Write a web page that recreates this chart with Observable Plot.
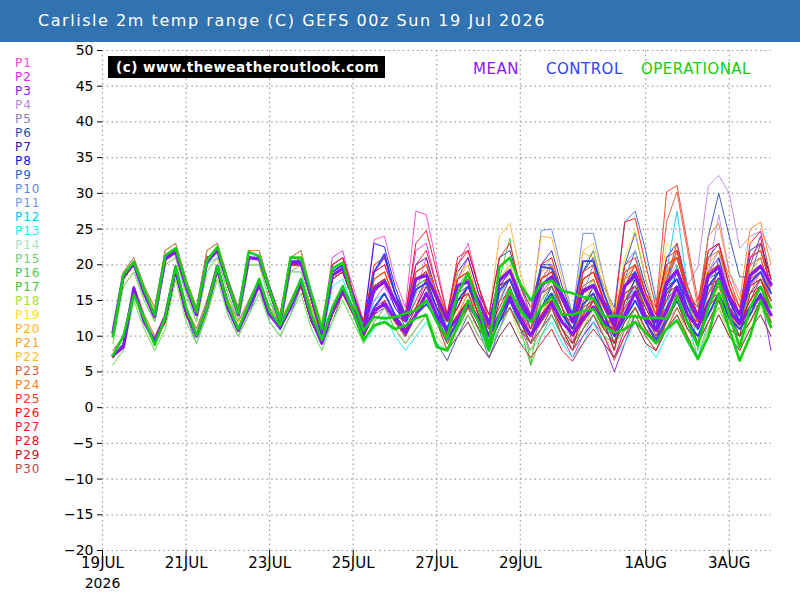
<!DOCTYPE html>
<html><head><meta charset="utf-8">
<script src="https://cdn.jsdelivr.net/npm/d3@7"></script>
<script src="https://cdn.jsdelivr.net/npm/@observablehq/plot@0.6"></script>
<style>
body{margin:0;background:#fff;}
#wrap{position:relative;width:800px;height:600px;overflow:hidden;font-family:"DejaVu Sans",sans-serif;}
#title{position:absolute;left:0;top:0;width:800px;height:42px;background:#3172b0;color:#fff;font-size:16px;letter-spacing:1.55px;line-height:42px;padding-left:38px;box-sizing:border-box;white-space:nowrap;}
#chart{position:absolute;left:0;top:42px;}
.leg{position:absolute;left:15px;font-size:12px;line-height:12px;letter-spacing:1px;}
#copy{position:absolute;left:108px;top:56px;width:277px;height:22px;background:#000;color:#fff;font-weight:bold;font-size:13.5px;line-height:22px;padding-left:8px;box-sizing:border-box;letter-spacing:0.5px;white-space:nowrap;}
.key{position:absolute;top:61px;font-size:15px;line-height:16px;letter-spacing:0.5px;white-space:nowrap;}
</style></head>
<body><div id="wrap">
<div id="title"></div>
<div id="chart"></div>
<div id="copy">(c) www.theweatheroutlook.com</div>
</div>
<script>
const titleText = "Carlisle 2m temp range (C) GEFS 00z Sun 19 Jul 2026";
const yTicks = [-20,-15,-10,-5,0,5,10,15,20,25,30,35,40,45,50];
const xTickDates = ["2026-07-19","2026-07-21","2026-07-23","2026-07-25","2026-07-27","2026-07-29","2026-08-01","2026-08-03"];
const xTickLabels = ["19JUL","21JUL","23JUL","25JUL","27JUL","29JUL","1AUG","3AUG"];
const yearLabel = "2026";
const startTime = "2026-07-19T06:00:00Z"; // first 6-hourly value
const stepHours = 6;

const memberNames = ["P1","P2","P3","P4","P5","P6","P7","P8","P9","P10","P11","P12","P13","P14","P15","P16","P17","P18","P19","P20","P21","P22","P23","P24","P25","P26","P27","P28","P29","P30"];
const memberColors = ["#ff40d0","#e020f0","#8a10f0","#b888e8","#9080b8","#2850a8","#3010b0","#1010f0","#3060d8","#6088e0","#7098e8","#10c8f8","#10f0f0","#a8e0c0","#70d070","#50c850","#40c030","#a8e030","#ffe020","#ffb030","#ffa020","#ffc030","#e05838","#ff8020","#ff3820","#ff1010","#f01030","#e81020","#c81020","#b84848"];
const keyNames = ["MEAN","CONTROL","OPERATIONAL"];
const keyColors = ["#8c14fa","#3040ff","#10d010"];

// ensemble mean, control, operational (6-hourly max / min)
const meanMax = [10.5,18.5,20.2,16, 12.8,20.8,21.8,17, 13,20.5,22,17.5, 13,21,20.8,16.5, 12,20.3,20.2,15.5, 10.5,18.5,19.5,15.5, 11,16.6,17.6,15, 12.2,18,18.5,15.5, 12.4,17.1,17.6,15, 11.7,17.8,19.2,15.5, 12.5,17.1,18.3,15.5, 12,16.4,17.1,14.5, 11.5,17,18.5,15, 12,17.5,19.2,15.5, 12.5,18.5,19.7,15.5, 13,18.5,19.8,17.3];
const meanMin = [7.3,8.5,16.7,12, 9.3,12.7,19.5,13.5, 10,14,19.8,14, 10.8,14,17.2,13, 11.3,14,17.8,12.5, 9,13.6,16.4,13.5, 10.4,13.6,14.5,12.5, 10.5,13,16,13, 10.8,12.5,14.6,12.5, 10.1,13,15.5,12.5, 10.1,12.5,14.6,12, 10.3,12.5,14.1,12, 10.4,13,16.2,12.5, 10.8,13.5,16.9,13, 11.3,14.5,18,13.5, 11.7,14,15.6,13];
const ctrlMax = [10.3,18.3,20,16, 12.7,21,21.7,17, 13,20.4,22,17.5, 13,21,21,16.5, 12,20.5,20.5,15.5, 10.5,19,20,15.5, 11,19,21.5,16, 12.5,16.5,17.5,14, 11,15,17,14, 10,16.5,18,14.5, 12,19.7,19.5,16, 13,20.5,20.5,16, 12,17,19,15, 11,16.5,18,14, 11,17,19,15, 12,17.5,19,16];
const ctrlMin = [7.2,8.8,16.5,12, 9.3,12.5,19,13.5, 10,14,19.2,14, 10.8,14,17.5,13, 11,14,17.5,12.5, 9,13.5,17,13.5, 10.5,14,16,13, 10.5,13,14.5,12.5, 9.5,12,14.5,12, 9,12,15,12, 10,14,16,13, 11,14.5,16,13, 10,12.5,15,12, 9.5,12.5,15,12, 10,13,16,12.5, 11,13,16,13];
const operMax = [10,18.6,20.4,16.5, 13,21.3,22.3,17.5, 13.4,20.6,22.5,17.5, 13.2,21.8,21.2,16.5, 12.2,21,21,16, 11,19.5,20.3,15, 10.8,12.7,12.5,12.7, 13.2,13.6,15,12, 9.7,16,18.8,14, 8.7,19.7,21,17.3, 15,17.3,17.8,16.4, 16,15.5,15.3,12.7, 12.9,12.7,12.8,12.5, 12.6,12.4,15.5,12, 8.7,14,17.8,13, 8.5,14,16.9,14];
const operMin = [7.3,10,15.8,12.5, 8.8,12.7,19.8,14, 10.1,14,19.8,14.5, 11,14.5,18,13.5, 11.5,14.5,18,13, 9.5,14,17,13.5, 9.5,11.5,12,11, 11.5,12.5,13,8.5, 8,11.5,15,12, 8,13,16.5,13.5, 12,14,15.5,13, 13,13.5,13.8,11.5, 10.5,11,12,10.5, 9,11,12.2,9.5, 6.8,10,16,11, 6.6,10,15,11.3];

// perturbation members
const P1_max = [10,18,20,16, 13,21,22,17, 13,21,22,17, 13,21,21,16, 12,20,21,16, 11,20,21,17, 12,23.5,24,18, 14,27.5,27,20, 13,20,23,17, 12,18,19,15, 11,16,17,14, 10,15,16,13, 9,15,17,14, 11,16,18,14, 12,17,19,15, 12,18,19,15];
const P1_min = [7,9,16,12, 9,12,19,13, 10,14,19,14, 11,14,17,13, 11,14,18,13, 10,14,17,14, 11,15,17,14, 12,16,21,15, 12,14,17,13, 10,13,15,12, 9,12,14,11, 8,11,13,10, 7,11,14,11, 9,12,15,12, 10,13,16,12, 11,13,15,12];
const P2_max = [10,18,20,16, 12,21,22,17, 13,20,22,17, 13,21,21,16, 12,21,21,16, 11,21,22,16, 12,19,20,16, 13,22,23,17, 12,18,21,16, 11,17,18,14, 10,16,18,14, 9,15,16,13, 10,16,17,14, 12,18,21,16, 13,19,22,16, 12,17,19,15];
const P2_min = [7,9,16,12, 9,12,19,13, 10,14,19,14, 11,14,17,13, 11,14,17,12, 9,14,17,13, 10,14,15,13, 11,14,18,13, 11,13,16,13, 10,12,14,11, 8,11,13,10, 7,10,12,10, 7,11,14,11, 10,13,17,13, 11,14,18,13, 11,13,16,12];
const P3_max = [10,18,20,16, 13,21,22,17, 13,21,22,17, 13,21,21,16, 12,20,20,15, 10,18,19,15, 11,17,18,15, 12,18,19,15, 12,16,17,14, 11,17,19,15, 11,16,17,14, 10,15,16,12, 8,15,17,13, 11,17,19,15, 12,19,21,16, 12,20,24,16];
const P3_min = [7,9,17,12, 9,12,19,13, 10,14,19,14, 11,14,17,13, 11,14,17,12, 9,13,16,13, 10,13,14,12, 10,13,15,12, 10,12,14,11, 9,12,14,11, 9,11,13,10, 8,10,12,9, 5,9,13,10, 8,12,16,12, 10,14,18,13, 11,13,16,8];
const P4_max = [10,18,20,16, 13,21,22,17, 13,21,22,17, 13,21,21,16, 12,20,20,15, 10,18,19,15, 11,17,18,15, 12,18,19,15, 12,17,18,15, 12,18,19,15, 12,17,18,15, 12,16,17,14, 11,17,18,15, 12,19,21,17, 19.7,31,32.5,30, 22.3,24,24.7,22];
const P4_min = [7,9,17,12, 9,12,19,13, 10,14,19,14, 11,14,17,13, 11,14,17,12, 9,13,16,13, 10,13,15,12, 10,13,16,13, 11,12,15,12, 10,13,15,12, 10,12,15,12, 10,12,14,12, 10,13,16,12, 11,14,17,14, 15,19,27,19, 16,17,20,15];
const P5_max = [10,17,19,15, 12,20,21,16, 12,20,21,16, 12,20,20,15, 12,19,20,15, 10,18,19,15, 11,17,18,15, 12,19,20,16, 13,18,19,15, 12,17,18,14, 12,16,17,14, 11,16,17,13, 11,16,17,14, 11,16,17,14, 12,17,18,14, 13,17,18,15];
const P5_min = [7,9,16,12, 9,12,18,13, 10,13,18,14, 11,14,17,13, 11,14,17,12, 9,13,16,13, 10,13,15,12, 11,13,16,13, 11,13,15,12, 10,12,14,11, 10,12,14,11, 9,11,13,11, 9,12,14,11, 9,12,14,11, 10,13,15,12, 11,13,15,12];
const P6_max = [10,18,20,16, 13,21,22,17, 13,20,22,17, 13,21,21,16, 12,20,20,15, 10,18,19,15, 11,17,18,15, 11,17,18,14, 10,15,16,13, 10,17,19,15, 12,18,20,16, 12,19,22,16, 12,20,24.5,18, 13,18,22,16, 14,24,30,24, 18.3,18.3,23,18];
const P6_min = [7,9,16,12, 9,12,18,13, 9,13,19,13, 10,13,17,12, 10,13,17,12, 9,12,16,13, 9,12,14,11, 9,11,13,9, 6.6,10,13,10, 8,11,14,11, 10,12,15,12, 10,13,16,13, 11,14,18,13, 10,12,16,12, 11,14,21,15, 13,14,16,13];
const P7_max = [11,19,21,17, 14,22,23,18, 14,22,23,18, 14,22,22,17, 13,21,22,16, 11,20,21,16, 12,19,21,16, 13,20,21,16, 12,19,21,16, 13,21,22,17, 14,20,22,17, 13,19,21,16, 12,20,22,17, 13,21,23,17, 13,21,23,17, 14,22,23,18];
const P7_min = [8,10,17,13, 10,13,20,14, 11,15,20,15, 12,15,18,14, 12,15,18,14, 10,14,17,14, 11,14,16,13, 12,14,17,13, 12,14,17,13, 12,15,18,14, 12,14,17,13, 12,14,17,13, 12,15,18,13, 12,15,19,14, 13,16,19,14, 13,16,18,14];
const P8_max = [10,18,20,16, 13,21,22,17, 13,21,22,17, 13,21,21,16, 12,20,21,16, 11,20,21,16, 12,23,22.5,17, 13,19,20,15, 11,17,18,15, 11,17,18,15, 12,20,20,16, 12,18,19,15, 11,16,17,14, 11,17,18,15, 11,18,19,15, 12,18,19,16];
const P8_min = [7,9,17,12, 9,12,19,13, 10,14,19,14, 11,14,17,13, 11,14,17,13, 10,14,17,14, 11,16,18,14, 12,14,15,12, 10,12,14,11, 9,12,14,11, 10,13,15,12, 10,12,14,11, 9,12,14,11, 9,12,15,12, 10,13,16,12, 11,13,16,12];
const P9_max = [10,18,20,16, 13,21,22,17, 13,21,22,17, 13,21,21,16, 12,20,20,15, 10,18,19,15, 11,18,19,15, 12,18,19,15, 11,17,18,14, 9,16,18,14, 12,18,19,15, 12,19,21,17, 14,26,27.5,22, 15,19,21,17, 13,18,19,15, 12,18,19,15];
const P9_min = [7,9,16,12, 9,12,19,13, 10,14,19,14, 11,14,17,13, 11,14,17,12, 9,13,16,13, 10,13,15,12, 10,13,15,12, 9,11,14,11, 7,11,15,11, 10,12,15,12, 11,14,17,13, 12,18,22,16, 12,14,17,13, 11,13,16,12, 10,13,16,12];
const P10_max = [10,18,20,16, 13,21,22,17, 13,21,22,17, 13,21,21,16, 12,20,20,15, 10,18,19,15, 11,17,18,15, 12,18,19,15, 12,17,19,15, 12,18,20,16, 13,24.8,25,19, 13,24.4,24.4,18, 12,19,20,16, 12,20,21,16, 12,19,20,15, 12,19,20,16];
const P10_min = [7,9,16,12, 9,12,19,13, 10,14,19,14, 11,14,17,13, 11,14,17,12, 9,13,16,13, 10,13,15,12, 11,13,15,12, 11,13,15,12, 10,13,16,12, 11,16,20,14, 11,16,20,14, 11,14,17,13, 11,14,17,13, 11,14,17,13, 12,14,17,13];
const P11_max = [10,18,20,16, 13,21,22,17, 13,20,21,17, 13,21,21,16, 12,21,21,16, 11,19,20,16, 12,18,19,15, 12,19,20,15, 12,16,18,14, 11,17,18,14, 11,16,17,13, 10,15,16,13, 10,17,18,14, 11,16,18,14, 12,18,20,15, 12,21,22,17];
const P11_min = [7,9,16,12, 9,12,19,13, 10,14,19,14, 11,14,17,13, 11,14,17,12, 9,13,16,13, 10,13,15,12, 11,13,15,12, 10,12,14,11, 9,11,14,11, 9,11,13,10, 8,10,13,10, 9,11,14,11, 9,12,15,11, 10,13,16,12, 11,14,17,13];
const P12_max = [10,18,20,16, 13,21,22,17, 13,20,22,17, 13,21,21,16, 12,20,20,15, 10,18,19,15, 11,17,18,15, 12,18,19,15, 12,18,19,15, 11,17,18,15, 12,17,18,15, 12,17,18,14, 11,17,19,15, 12,19,27.5,17, 8,17,19,15, 12,17,18,15];
const P12_min = [7,9,16,12, 9,12,19,13, 10,14,19,14, 11,14,17,13, 11,14,17,12, 9,13,16,13, 10,13,15,12, 10,13,15,12, 10,12,14,11, 9,12,14,11, 10,12,14,11, 10,12,14,11, 10,12,15,12, 11,14,20,12, 7,12,15,12, 10,13,15,12];
const P13_max = [9,17,19,15, 12,20,21,16, 12,19,21,16, 12,20,20,15, 11,19,19,14, 9,17,18,14, 10,15,16,13, 11,16,17,13, 10,15,16,13, 9,15,17,13, 10,15,16,13, 10,14,15,12, 9,14,16,12, 9,15,16,12, 10,15,16,13, 10,16,17,13];
const P13_min = [6,8,15,11, 8,11,18,12, 9,13,18,13, 10,13,16,12, 10,13,16,11, 8,12,15,12, 9,11,13,10, 8,10,12,9, 8,10,12,9, 7,10,12,9, 8,10,12,9, 7,9,12,9, 7,9,12,9, 7,10,13,9, 7,10,13,10, 8,11,13,10];
const P14_max = [10,18,20,16, 13,20,21,17, 13,20,21,17, 13,20,20,16, 12,20,20,15, 10,18,19,15, 11,17,18,15, 12,18,19,16, 13,18,19,15, 12,18,19,15, 12,18,19,15, 12,18,19,15, 12,20,22,16, 12,18,19,15, 13,19,22,16, 13,20,21,16];
const P14_min = [7,9,16,12, 9,12,18,13, 10,13,18,14, 11,14,17,13, 11,14,17,12, 9,13,16,13, 10,13,15,12, 11,13,16,13, 11,13,15,12, 10,13,15,12, 11,13,15,12, 11,13,15,12, 11,14,17,13, 11,13,15,12, 11,14,17,13, 12,14,16,13];
const P15_max = [10,18,20,16, 13,21,22,17, 13,21,22,17, 13,21,21,16, 12,20,20,15, 10,18,19,15, 11,17,18,15, 12,17,18,15, 11,17,18,14, 11,17,18,14, 12,17,18,15, 12,16,17,14, 11,16,17,14, 11,16,17,13, 9,16,18,14, 10,17,18,15];
const P15_min = [7,9,16,12, 9,12,19,13, 10,14,19,14, 11,14,17,13, 11,14,17,12, 9,13,16,13, 10,13,15,12, 10,13,15,12, 9,11,14,11, 9,12,14,11, 10,12,14,11, 10,12,14,11, 9,11,13,10, 8,11,13,10, 7,11,15,11, 8,12,15,12];
const P16_max = [10,18,20,16, 13,21,22,17, 13,21,22,17, 13,21,21,16, 12,20,21,16, 11,19,20,15, 11,18,19,15, 12,18,19,15, 12,17,18,15, 11,18,20,15, 12,17,18,14, 11,16,17,14, 11,17,18,14, 11,18,20,15, 11,18,19,15, 12,19,21,16];
const P16_min = [7,9,16,12, 9,12,19,13, 10,14,19,14, 11,14,17,13, 11,14,17,12, 9,13,16,13, 10,13,15,12, 10,13,15,12, 10,12,14,11, 9,12,15,11, 9,11,14,11, 9,11,13,10, 9,11,14,11, 9,12,15,12, 9,12,15,12, 10,13,16,12];
const P17_max = [10,18,20,16, 13,21,22,17, 13,21,22,17, 13,21,21,16, 12,20,20,15, 10,18,19,15, 11,17,18,15, 12,17,18,15, 11,16,17,14, 10,18,23.7,15, 6,15,17,13, 11,16,18,14, 11,17,18,14, 11,17,19,15, 11,17,18,14, 11,17,18,15];
const P17_min = [7,9,16,12, 9,12,19,13, 10,14,19,14, 11,14,17,13, 11,14,17,12, 9,13,16,13, 10,13,15,12, 10,13,15,12, 9,11,14,11, 9,12,17,11, 5.9,10,13,10, 9,11,14,11, 9,12,14,11, 9,12,15,11, 9,12,14,11, 10,12,15,12];
const P18_max = [9,17,19,15, 12,20,21,16, 12,19,21,16, 12,20,20,15, 11,19,19,14, 10,18,19,15, 11,17,18,15, 12,18,19,15, 12,19,20,15, 11,18,20,15, 12,19,21,16, 12,20,22,16, 12,18,20,15, 12,19,21,16, 12,19,20,16, 13,18,19,16];
const P18_min = [6,8,15,11, 8,11,18,12, 9,13,18,13, 10,13,16,12, 10,13,16,11, 8,12,15,12, 9,12,14,11, 9,11,13,10, 8,11,13,10, 8,11,14,10, 8,11,14,10, 8,11,14,10, 8,11,14,10, 8,11,14,10, 8,11,14,10, 9,12,14,11];
const P19_max = [10,18,20,16, 13,21,22,17, 13,21,22,17, 13,21,21,16, 12,20,20,15, 10,18,19,15, 11,18,19,15, 12,18,19,15, 12,18,19,15, 12,18,20,16, 12,18,19,15, 12,19,20,16, 13,21,24.8,18, 13,23,22,17, 13,19,20,16, 13,18,19,15];
const P19_min = [7,9,16,12, 9,12,19,13, 10,14,19,14, 11,14,17,13, 11,14,17,12, 9,13,16,13, 10,13,15,12, 11,13,15,12, 11,13,15,12, 11,13,16,12, 11,13,15,12, 11,14,16,13, 12,15,19,14, 12,16,18,14, 12,14,17,13, 11,13,15,12];
const P20_max = [10,18,20,16, 13,21,22,17, 13,21,22,17, 13,21,21,16, 12,20,20,15, 10,18,19,15, 11,18,19,15, 13,19,20,16, 13,18,19,15, 13,24,25.8,19, 14,24,23.8,18, 13,21.7,21,17, 13,19,20,16, 12,19,22,16, 12,18,20,16, 12,19,21,16];
const P20_min = [7,9,16,12, 9,12,19,13, 10,14,19,14, 11,14,17,13, 11,14,17,12, 9,13,16,13, 10,13,15,12, 11,14,16,13, 11,13,16,13, 12,15,19,14, 12,15,18,14, 12,15,17,13, 11,14,16,13, 11,14,17,13, 11,14,16,13, 11,14,17,13];
const P21_max = [11,19,21,17, 14,22,23,18, 14,22,23,18, 14,22,22,17, 13,21,22,16, 12,20,21,16, 12,18,19,15, 12,19,20,16, 13,18,20,15, 12,18,19,15, 12,19,20,16, 12,18,19,15, 12,18,20,16, 12,20,21,16, 13,20,22,17, 14,21,22,17];
const P21_min = [8,10,17,13, 10,13,20,14, 11,15,20,15, 12,15,18,14, 12,15,18,14, 10,14,17,13, 10,13,15,12, 11,14,16,13, 11,13,16,12, 10,13,15,12, 11,13,16,12, 11,13,15,12, 11,13,16,12, 11,14,17,13, 12,15,17,13, 12,15,17,13];
const P22_max = [10,18,20,16, 13,21,22,17, 13,21,22,17, 13,21,21,16, 12,20,20,15, 10,18,19,15, 11,17,18,15, 12,18,19,15, 12,17,18,15, 12,18,19,15, 12,18,19,15, 13,22,23,18, 13,18,19,15, 12,18,19,15, 13,19,20,16, 13,19,20,16];
const P22_min = [7,9,16,12, 9,12,19,13, 10,14,19,14, 11,14,17,13, 11,14,17,12, 9,13,16,13, 10,13,15,12, 11,13,15,12, 10,13,15,12, 10,13,15,12, 10,13,15,12, 11,14,18,13, 11,13,15,12, 10,13,15,12, 11,13,16,12, 11,13,16,12];
const P23_max = [10,18,20,16, 13,21,22,17, 13,21,22,17, 13,21,21,16, 12,20,20,15, 10,18,19,15, 11,17,18,15, 12,18,19,15, 12,17,18,14, 11,17,18,14, 12,17,18,15, 12,17,18,14, 12,18,19,15, 13,26,30.2,22, 14,21,22,17, 13,20,21,16];
const P23_min = [7,9,16,12, 9,12,19,13, 10,14,19,14, 11,14,17,13, 11,14,17,12, 9,13,16,13, 10,13,15,12, 10,13,15,12, 10,12,14,11, 10,12,14,11, 10,12,15,12, 10,12,14,11, 11,13,15,12, 12,17,22,15, 12,15,17,13, 11,14,16,13];
const P24_max = [10,18,20,16, 13,21,22,17, 13,21,22,17, 13,21,21,16, 12,20,20,15, 10,18,19,15, 11,18,19,15, 12,18,19,15, 12,18,19,15, 11,18,19,15, 12,18,20,15, 12,18,19,15, 12,19,20,16, 12,19,21,16, 13,24,25.8,19, 15,25,26,20];
const P24_min = [7,9,16,12, 9,12,19,13, 10,14,19,14, 11,14,17,13, 11,14,17,12, 9,13,16,13, 10,13,15,12, 10,13,15,12, 10,13,15,12, 10,12,15,12, 10,13,15,12, 10,13,15,12, 11,13,16,12, 11,14,16,13, 12,16,19,14, 13,16,19,14];
const P25_max = [10,18,20,16, 13,21,22,17, 13,21,22,17, 13,21,21,16, 12,20,20,15, 10,18,19,15, 11,18,19,15, 12,19,20,16, 12,18,19,15, 12,18,19,15, 12,18,19,15, 12,18,19,15, 12,19,20,16, 14,30.2,31.1,23, 15,22,23,18, 14,21,23,17];
const P25_min = [7,9,16,12, 9,12,19,13, 10,14,19,14, 11,14,17,13, 11,14,17,12, 9,13,16,13, 10,13,15,12, 11,13,16,13, 11,13,15,12, 10,13,15,12, 10,13,15,12, 10,13,15,12, 11,13,16,12, 12,18,23,16, 13,16,18,14, 12,15,17,13];
const P26_max = [10,18,20,16, 13,21,22,17, 13,21,22,17, 13,21,21,16, 12,20,20,15, 10,18,19,15, 11,17,18,15, 12,18,19,15, 12,18,19,15, 12,18,19,15, 12,18,19,15, 12,18,19,15, 13,26,26.5,20, 14,20,21,16, 13,19,20,16, 13,23,24.7,18];
const P26_min = [7,9,16,12, 9,12,19,13, 10,14,19,14, 11,14,17,13, 11,14,17,12, 9,13,16,13, 10,13,15,12, 11,13,15,12, 10,13,15,12, 10,13,15,12, 10,13,15,12, 10,12,15,12, 12,17,20,15, 12,14,17,13, 11,14,16,13, 12,15,18,14];
const P27_max = [10,18,20,16, 13,21,22,17, 13,21,22,17, 13,21,21,16, 12,20,21,16, 11,20,21,16, 12,19,20,16, 13,20,22,17, 13,20,22,17, 13,21,23,17, 13,20,21,16, 12,19,20,15, 12,20,21,16, 13,21,22,17, 13,22,23,17, 13,21,22,17];
const P27_min = [7,9,16,12, 9,12,19,13, 10,14,19,14, 11,14,17,13, 11,14,17,13, 10,14,17,14, 11,14,16,13, 11,14,17,13, 11,14,17,13, 11,14,17,13, 11,14,16,13, 11,13,15,12, 11,14,16,13, 12,15,17,13, 12,15,18,14, 12,15,17,13];
const P28_max = [10,18,20,16, 13,21,22,17, 13,21,22,17, 13,21,21,16, 12,20,20,15, 10,19,20,15, 12,20,21,16, 13,23,24.8,19, 13,21,22,17, 12,17,18,15, 12,17,18,14, 11,16,17,14, 11,16,17,14, 11,16,18,14, 11,17,18,14, 12,17,18,15];
const P28_min = [7,9,16,12, 9,12,19,13, 10,14,19,14, 11,14,17,13, 11,14,17,12, 9,13,16,13, 11,14,16,13, 12,15,18,14, 12,14,17,13, 10,13,15,12, 10,12,14,11, 9,12,14,11, 9,12,14,11, 9,12,15,11, 9,12,15,11, 10,12,15,12];
const P29_max = [10,18,20,16, 13,21,22,17, 13,21,22,17, 13,21,21,16, 12,20,20,15, 10,18,19,15, 11,17,18,15, 12,18,19,15, 10,15,16,12, 9,15,16,12, 9,14,15,11, 8,14,15,12, 8,15,16,12, 9,16,17,13, 9,15,16,13, 10,16,17,13];
const P29_min = [7,9,16,12, 9,12,19,13, 10,14,19,14, 11,14,17,13, 11,14,17,12, 9,13,16,13, 10,13,15,12, 10,13,15,12, 8,10,12,9, 7,10,12,9, 7,9,11,8, 6.5,9,11,9, 7,10,12,9, 8,11,13,10, 7,10,13,10, 8,11,13,10];
const P30_max = [10,18,20,16, 13,21,22,17, 13,21,22,17, 13,21,21,16, 12,20,20,15, 10,18,19,15, 11,17,18,15, 12,18,19,15, 12,17,18,14, 11,17,18,14, 11,16,17,14, 10,16,17,13, 9,16,17,13, 10,16,17,14, 11,17,18,14, 12,18,19,15];
const P30_min = [7,9,16,12, 9,12,19,13, 10,14,19,14, 11,14,17,13, 11,14,17,12, 9,13,16,13, 10,13,15,12, 10,13,15,12, 9,12,14,11, 9,12,14,11, 9,11,14,10, 8,11,13,10, 6.6,10,13,10, 8,11,14,11, 9,12,15,11, 10,12,15,12];

const memberMax = [P1_max,P2_max,P3_max,P4_max,P5_max,P6_max,P7_max,P8_max,P9_max,P10_max,P11_max,P12_max,P13_max,P14_max,P15_max,P16_max,P17_max,P18_max,P19_max,P20_max,P21_max,P22_max,P23_max,P24_max,P25_max,P26_max,P27_max,P28_max,P29_max,P30_max];
const memberMin = [P1_min,P2_min,P3_min,P4_min,P5_min,P6_min,P7_min,P8_min,P9_min,P10_min,P11_min,P12_min,P13_min,P14_min,P15_min,P16_min,P17_min,P18_min,P19_min,P20_min,P21_min,P22_min,P23_min,P24_min,P25_min,P26_min,P27_min,P28_min,P29_min,P30_min];

const t0 = new Date(startTime).getTime();
const stepMs = stepHours * 3600 * 1000;
const rows = arr => arr.map((v, i) => ({t: new Date(t0 + i * stepMs), v}));

document.getElementById("title").textContent = titleText;
const wrap = document.getElementById("wrap");
memberNames.forEach((n, i) => {
  const d = document.createElement("div");
  d.className = "leg"; d.textContent = n; d.style.color = memberColors[i];
  d.style.top = (56.5 + i * 14.03) + "px";
  wrap.appendChild(d);
});
const keyLeft = [473, 546, 641];
keyNames.forEach((n, i) => {
  const d = document.createElement("div");
  d.className = "key"; d.textContent = n; d.style.color = keyColors[i];
  d.style.left = keyLeft[i] + "px";
  wrap.appendChild(d);
});

const ticksX = xTickDates.map(s => new Date(s + "T00:00:00Z"));
const labelOf = new Map(ticksX.map((d, i) => [+d, xTickLabels[i]]));
const gridStyle = {stroke: "#9a9a9a", strokeOpacity: 1, strokeDasharray: "1.5,3.2", strokeWidth: 1.2};

const marks = [
  Plot.gridY(yTicks, gridStyle),
  Plot.gridX(ticksX, gridStyle)
];
memberNames.forEach((n, i) => {
  marks.push(Plot.line(rows(memberMax[i]), {x: "t", y: "v", stroke: memberColors[i], strokeWidth: 0.9}));
  marks.push(Plot.line(rows(memberMin[i]), {x: "t", y: "v", stroke: memberColors[i], strokeWidth: 0.9}));
});
marks.push(Plot.line(rows(ctrlMax), {x: "t", y: "v", stroke: keyColors[1], strokeWidth: 1.8}));
marks.push(Plot.line(rows(ctrlMin), {x: "t", y: "v", stroke: keyColors[1], strokeWidth: 1.8}));
marks.push(Plot.line(rows(meanMax), {x: "t", y: "v", stroke: keyColors[0], strokeWidth: 3.2}));
marks.push(Plot.line(rows(meanMin), {x: "t", y: "v", stroke: keyColors[0], strokeWidth: 3.2}));
marks.push(Plot.line(rows(operMax), {x: "t", y: "v", stroke: keyColors[2], strokeWidth: 2.6}));
marks.push(Plot.line(rows(operMin), {x: "t", y: "v", stroke: keyColors[2], strokeWidth: 2.6}));
marks.push(Plot.axisY(yTicks, {anchor: "left", label: null, tickSize: 5, tickPadding: 4, fontSize: 14,
  tickFormat: d => d < 0 ? "\u2212" + (-d) : String(d)}));
marks.push(Plot.axisX(ticksX, {anchor: "bottom", label: null, tickSize: 6, tickPadding: 1, fontSize: 15,
  tickFormat: d => labelOf.get(+d)}));
marks.push(Plot.text([{t: ticksX[0], s: yearLabel}], {x: "t", y: () => -20, text: "s", dy: 33, fontSize: 14, fill: "#000"}));

const chart = Plot.plot({
  width: 800, height: 558,
  marginTop: 8, marginBottom: 50, marginLeft: 102, marginRight: 29.5,
  x: {type: "utc", domain: [new Date("2026-07-19T00:00:00Z"), new Date("2026-08-04T00:00:00Z")], label: null},
  y: {domain: [-20, 50], label: null},
  style: {fontFamily: "'DejaVu Sans',sans-serif", fontSize: "15px", color: "#000", background: "transparent", overflow: "visible"},
  marks
});
document.getElementById("chart").appendChild(chart);
</script>
</body></html>
